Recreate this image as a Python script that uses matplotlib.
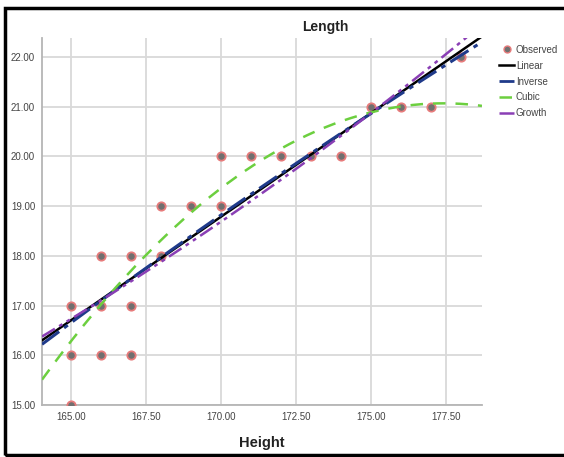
import matplotlib.pyplot as plt
import numpy as np
from matplotlib.lines import Line2D

height = [165, 165, 165, 166, 166, 166, 167, 167, 167, 168, 168,
          169, 170, 170, 171, 172, 173, 174, 175, 176, 177, 178]
length = [15, 16, 17, 16, 17, 18, 16, 17, 18, 18, 19,
          19, 19, 20, 20, 20, 20, 20, 21, 21, 21, 22]

# curve estimation coefficients, estimated from the drawn curves
linear_b = [-52.035, 0.4166]          # y = b0 + b1*x
inverse_b = [90.28, -12148.0]         # y = b0 + b1/x
cubic_b = [19.36, 0.46, -0.031, 0.0]  # y = sum bi*(x-170)^i
growth_b = [-0.8292, 0.0221]          # ln y = b0 + b1*x

x_ticks = [165.0, 167.5, 170.0, 172.5, 175.0, 177.5]
y_ticks = [15, 16, 17, 18, 19, 20, 21, 22]

plt.rcParams['font.family'] = ['Liberation Sans', 'DejaVu Sans']

fig = plt.figure(figsize=(5.64, 4.57), dpi=100)
ax = fig.add_axes([0.0745, 0.1138, 0.78, 0.803])

x0, x1 = 164.03, 178.7
xs = np.linspace(x0, x1, 300)

ax.plot(height, length, 'o', ms=6, mfc='#707070', mec='#e77b7b', mew=1.3,
        zorder=3)
ax.plot(xs, linear_b[0] + linear_b[1] * xs, color='black', lw=1.8, zorder=4)
ax.plot(xs, inverse_b[0] + inverse_b[1] / xs, color='#1f3a8a', lw=2.2,
        dashes=(7, 2, 1.5, 2), zorder=4)
ax.plot(xs, np.polynomial.polynomial.polyval(xs - 170, cubic_b),
        color='#6ccf3f', lw=1.8, dashes=(5, 4), zorder=4)
ax.plot(xs, np.exp(growth_b[0] + growth_b[1] * xs), color='#8a3fb5', lw=1.8,
        dashes=(6, 2, 1.5, 2, 1.5, 2), zorder=4)

ax.set_xlim(x0, x1)
ax.set_ylim(15, 22.38)
ax.set_xticks(x_ticks)
ax.set_yticks(y_ticks)
ax.set_xticklabels(['%.2f' % v for v in x_ticks])
ax.set_yticklabels(['%.2f' % v for v in y_ticks])
ax.tick_params(length=0, labelsize=7, colors='#444444', pad=5)
ax.grid(True, color='#d9d9d9', lw=1.3)
ax.set_axisbelow(True)
for s in ['top', 'right']:
    ax.spines[s].set_visible(False)
for s in ['left', 'bottom']:
    ax.spines[s].set_color('#b5b5b5')
    ax.spines[s].set_linewidth(1.3)

ax.set_xlabel('Height', fontsize=10.5, fontweight='bold', color='#222222',
              labelpad=10)
fig.text(325 / 564, 1 - 27 / 457, 'Length', fontsize=10, fontweight='bold',
         color='#222222', ha='center', va='center')

handles = [
    Line2D([], [], ls='none', marker='o', ms=5, mfc='#707070', mec='#e77b7b'),
    Line2D([], [], color='black', lw=1.8),
    Line2D([], [], color='#1f3a8a', lw=2, dashes=(7, 2, 1.5, 2)),
    Line2D([], [], color='#6ccf3f', lw=1.8, dashes=(5, 4)),
    Line2D([], [], color='#8a3fb5', lw=1.8, dashes=(6, 2, 1.5, 2, 1.5, 2)),
]
fig.legend(handles, ['Observed', 'Linear', 'Inverse', 'Cubic', 'Growth'],
           loc='upper left', bbox_to_anchor=(494 / 564, 1 - 40 / 457),
           frameon=False, fontsize=7, handlelength=1.6, handletextpad=0.15,
           labelspacing=0.6, borderpad=0, labelcolor='#444444')

# thick frame around the whole picture
fig.add_artist(plt.Rectangle((5 / 564, 2 / 457), 1.0, 1 - 10 / 457,
                             transform=fig.transFigure, fill=False,
                             ec='black', lw=2.5, clip_on=False))

fig.savefig('out.png', dpi=100)
